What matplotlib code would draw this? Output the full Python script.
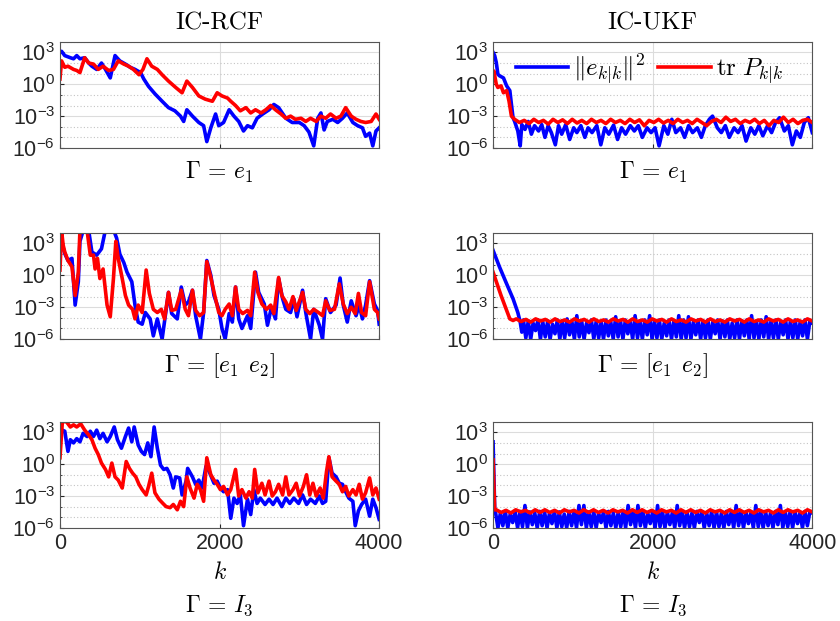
import numpy as np
import matplotlib
matplotlib.use('Agg')
import matplotlib.pyplot as plt
from matplotlib.ticker import NullFormatter

plt.rcParams['font.family'] = ['Liberation Sans', 'DejaVu Sans']
plt.rcParams['mathtext.fontset'] = 'cm'

# values are log10 of the plotted quantity
# IC-RCF, Gamma = e1
rcf_e1_err_k = [0, 20, 60, 130, 170, 210, 250, 310, 360, 400, 460, 520, 570, 630, 690, 750, 820, 880, 940, 1010,
                1050, 1110, 1190, 1280, 1360, 1440, 1510, 1550, 1590, 1660, 1740, 1800, 1840, 1890, 1950, 1990, 2050, 2120, 2180, 2240,
                2300, 2350, 2410, 2470, 2540, 2620, 2680, 2740, 2830, 2910, 3000, 3060, 3120, 3180, 3230, 3270, 3310, 3350, 3420, 3480,
                3540, 3600, 3670, 3730, 3790, 3830, 3880, 3920, 3960, 4000]
rcf_e1_err = [3.0, 3.1, 2.7, 2.5, 2.4, 2.7, 2.4, 2.5, 2.0, 1.7, 1.4, 2.0, 1.4, 0.6, 2.7, 2.2, 1.9, 1.6, 1.4, 1.1,
              0.5, -0.2, -0.9, -1.6, -2.2, -2.5, -3.0, -3.5, -2.4, -3.0, -3.6, -3.9, -5.4, -4.1, -2.8, -3.9, -3.6, -2.4, -3.0, -3.5,
              -4.4, -3.9, -4.1, -3.2, -2.8, -2.4, -1.9, -2.2, -3.2, -3.6, -3.6, -3.9, -4.5, -5.8, -3.2, -2.7, -4.3, -3.5, -3.3, -3.6,
              -3.2, -2.7, -3.6, -3.9, -4.1, -4.9, -4.6, -5.8, -4.4, -4.1]
rcf_e1_tr_k = [0, 20, 60, 100, 170, 210, 250, 310, 360, 420, 480, 540, 610, 670, 730, 800, 860, 920, 990, 1040,
               1090, 1150, 1220, 1280, 1360, 1450, 1530, 1590, 1660, 1740, 1820, 1910, 1970, 2030, 2100, 2140, 2200, 2260, 2330, 2390,
               2450, 2520, 2580, 2640, 2700, 2770, 2830, 2890, 2950, 3020, 3080, 3140, 3210, 3270, 3330, 3390, 3460, 3520, 3580, 3650,
               3710, 3770, 3830, 3900, 3960, 4000]
rcf_e1_tr = [0.5, 2.2, 1.6, 1.7, 1.4, 1.3, 1.1, 2.5, 2.0, 1.9, 1.4, 1.7, 1.3, 1.4, 2.2, 1.9, 1.7, 1.4, 0.9, 1.4,
             2.4, 1.7, 1.4, 0.9, 0.3, -0.3, -0.8, 0.3, -0.3, -1.1, -1.4, -1.6, -0.8, -1.1, -1.3, -1.6, -2.0, -2.5, -2.2, -2.7,
             -2.4, -2.7, -2.4, -2.0, -2.4, -2.8, -3.2, -3.0, -3.3, -3.2, -3.5, -3.2, -3.5, -3.0, -3.2, -2.8, -3.2, -3.0, -2.2, -3.0,
             -3.3, -3.5, -3.6, -3.5, -2.8, -3.3]

# IC-RCF, Gamma = [e1 e2]
rcf_e12_err_k = [0, 20, 60, 100, 150, 190, 230, 250, 290, 360, 400, 460, 520, 570, 670, 710, 750, 800, 840, 900,
                 940, 980, 1030, 1070, 1130, 1170, 1220, 1280, 1320, 1360, 1400, 1470, 1520, 1570, 1610, 1660, 1700, 1760, 1800, 1840,
                 1890, 1930, 1990, 2030, 2070, 2120, 2160, 2200, 2240, 2280, 2350, 2390, 2450, 2490, 2560, 2600, 2650, 2700, 2740, 2790,
                 2830, 2890, 2930, 2970, 3040, 3080, 3140, 3180, 3250, 3290, 3330, 3390, 3460, 3510, 3550, 3600, 3650, 3710, 3750, 3790,
                 3830, 3880, 3940, 3980, 4000]
rcf_e12_err = [2.7, 3.2, 2.05, 1.4, 1.6, -2.8, -0.6, 3.2, 4.2, 4.2, 2.2, 1.9, 2.5, 4.3, 4.3, 3.5, 2.0, 1.2, 0.3, -0.6,
               -2.8, -4.4, -4.6, -3.5, -4.1, -5.7, -4.1, -6.0, -3.8, -1.6, -3.6, -4.1, -1.1, -2.8, -2.5, -1.4, -3.8, -6.0, -3.5, 1.4,
               0.0, -1.9, -3.2, -5.0, -6.0, -3.6, -4.4, -1.1, -4.1, -5.0, -3.8, -5.0, 0.3, -1.6, -2.7, -4.7, -3.0, -4.1, -0.3, -2.2,
               -3.2, -3.5, -2.2, -3.9, -1.4, -3.5, -6.0, -3.2, -4.7, -6.0, -2.2, -3.5, -2.8, -0.25, -2.8, -4.4, -2.4, -3.8, -2.8, -4.1,
               -2.8, -0.5, -2.7, -3.3, -4.6]
rcf_e12_tr_k = [0, 20, 40, 60, 100, 150, 190, 230, 250, 340, 380, 420, 440, 470, 500, 540, 590, 630, 670, 700,
                730, 780, 820, 860, 910, 940, 980, 1030, 1080, 1120, 1170, 1220, 1270, 1310, 1360, 1400, 1450, 1520, 1570, 1610,
                1660, 1700, 1750, 1800, 1840, 1890, 1940, 1990, 2030, 2070, 2120, 2160, 2200, 2240, 2290, 2350, 2390, 2440, 2480, 2530,
                2590, 2640, 2680, 2740, 2780, 2830, 2870, 2920, 2960, 3040, 3080, 3130, 3180, 3240, 3290, 3330, 3380, 3440, 3500, 3550,
                3600, 3650, 3700, 3740, 3780, 3830, 3880, 3940, 3980, 4000]
rcf_e12_tr = [0.5, 4.2, 2.85, 2.2, 1.4, 0.8, -1.9, 0.3, 4.2, 4.2, 1.9, 1.9, 0.6, 1.6, -0.3, 0.6, -2.8, -3.9, -0.3, 3.2,
              1.6, -0.3, -1.9, -2.8, -3.2, -4.1, -2.8, -3.5, 0.5, -1.7, -3.2, -3.5, -3.2, -4.1, -1.6, -3.3, -3.2, -1.4, -3.2, -3.8,
              -1.4, -3.3, -3.8, -3.5, 1.3, -0.2, -1.9, -3.5, -3.8, -3.2, -2.7, -3.8, -1.1, -3.2, -3.6, -3.3, -3.8, 0.3, -1.6, -2.7,
              -3.2, -2.8, -3.6, -0.2, -1.9, -2.5, -3.2, -2.0, -3.3, -1.6, -3.2, -3.6, -3.2, -3.5, -3.8, -2.4, -3.3, -3.2, -0.8, -2.7,
              -3.6, -3.0, -3.6, -1.7, -3.5, -3.8, -0.6, -3.2, -3.5, -4.1]

# IC-RCF, Gamma = I3
rcf_i3_err_k = [0, 30, 60, 100, 130, 170, 210, 250, 290, 340, 380, 420, 460, 500, 540, 590, 630, 680, 720, 770,
                820, 860, 900, 930, 980, 1020, 1060, 1100, 1140, 1180, 1220, 1260, 1300, 1340, 1380, 1420, 1450, 1500, 1530, 1580,
                1600, 1660, 1700, 1740, 1780, 1830, 1870, 1930, 1970, 2010, 2050, 2100, 2140, 2180, 2220, 2260, 2300, 2350, 2390, 2430,
                2470, 2510, 2570, 2620, 2670, 2720, 2780, 2830, 2880, 2930, 2990, 3040, 3090, 3140, 3200, 3250, 3290, 3330, 3370, 3410,
                3460, 3500, 3540, 3580, 3620, 3670, 3700, 3740, 3780, 3830, 3880, 3920, 3960, 4000]
rcf_i3_err = [2.6, 3.2, 3.1, 1.2, 2.3, 2.0, 2.4, 2.1, 2.9, 2.6, 3.1, 2.6, 3.2, 2.4, 2.9, 2.1, 2.6, 3.5, 2.3, 1.5,
              2.6, 3.4, 2.1, 3.5, 1.8, 1.2, 0.9, 2.0, 0.7, 3.5, 1.5, -0.1, -0.5, -0.4, -1.0, -2.25, -1.2, -1.3, -2.9, -1.6,
              -0.4, -1.2, -1.9, -1.5, -2.25, -0.2, -0.7, -1.8, -1.6, -2.25, -2.6, -2.4, -5.1, -3.2, -3.7, -2.9, -5.8, -3.3, -4.75, -2.4,
              -3.7, -3.2, -3.8, -3.3, -3.8, -3.2, -4.0, -3.2, -3.7, -3.2, -3.7, -2.9, -3.8, -3.3, -3.7, -3.0, -3.7, -3.5, 0.6, -0.85,
              -1.2, -1.8, -1.9, -2.6, -3.2, -3.5, -5.8, -4.4, -3.8, -3.3, -4.9, -3.3, -4.1, -5.2]
rcf_i3_tr_k = [0, 30, 80, 130, 170, 210, 260, 310, 360, 400, 440, 480, 520, 570, 610, 650, 690, 730, 780, 830,
               870, 910, 950, 990, 1030, 1080, 1110, 1150, 1190, 1240, 1290, 1330, 1380, 1420, 1470, 1510, 1550, 1590, 1630, 1680,
               1720, 1760, 1800, 1840, 1890, 1930, 1970, 2010, 2050, 2100, 2140, 2200, 2240, 2280, 2330, 2370, 2410, 2440, 2480, 2530,
               2570, 2620, 2660, 2700, 2740, 2790, 2830, 2870, 2920, 2960, 3000, 3050, 3090, 3130, 3170, 3210, 3260, 3300, 3340, 3370,
               3410, 3460, 3500, 3540, 3580, 3620, 3670, 3710, 3750, 3790, 3830, 3880, 3920, 3960, 4000]
rcf_i3_tr = [0.6, 4.0, 4.0, 3.5, 3.7, 3.5, 3.8, 3.2, 2.75, 2.3, 1.5, 0.9, 0.1, -0.5, -1.2, 0.1, -1.2, -1.5, -2.25, 0.25,
             -0.4, -0.85, -1.2, -1.9, -2.4, -2.9, -2.1, -0.85, -2.7, -3.3, -3.7, -4.0, -4.1, -3.8, -4.3, -3.5, -4.0, -1.2, -2.25, -3.2,
             -1.9, -2.4, -3.5, 0.6, -1.0, -1.5, -1.9, -2.4, -2.1, -2.9, -2.4, -0.5, -3.0, -2.4, -3.2, -2.6, -3.2, -0.5, -2.7, -1.8,
             -2.9, -1.6, -3.0, -2.6, -1.9, -2.9, -1.2, -2.9, -2.4, -1.8, -3.0, -2.1, -1.0, -2.9, -1.8, -3.0, -2.25, -3.2, -0.7, 0.7,
             -1.2, -1.6, -1.9, -2.6, -2.1, -3.0, -2.4, -2.9, -1.9, -3.3, -2.7, -1.3, -2.9, -2.25, -3.3]

# IC-UKF, Gamma = e1
ukf_e1_err_k = [0, 20, 40, 60, 80, 130, 170, 210, 230, 250, 270, 310, 340, 360, 400, 440, 480, 520, 570, 610,
                650, 690, 730, 780, 820, 860, 910, 960, 1010, 1050, 1100, 1150, 1190, 1240, 1300, 1350, 1400, 1450, 1510, 1560,
                1610, 1660, 1720, 1770, 1820, 1870, 1930, 1980, 2030, 2080, 2140, 2190, 2240, 2290, 2350, 2400, 2450, 2500, 2560, 2610,
                2660, 2710, 2750, 2810, 2860, 2910, 2960, 3020, 3070, 3120, 3170, 3230, 3280, 3330, 3380, 3440, 3490, 3540, 3590, 3650,
                3700, 3750, 3800, 3850, 3900, 3950, 4000]
ukf_e1_err = [3.0, 2.7, 2.05, 0.95, 0.8, 0.6, -0.15, -0.6, -1.9, -3.15, -3.5, -4.4, -5.8, -3.8, -4.25, -3.5, -4.7, -3.9, -4.4, -3.8,
              -5.0, -3.9, -4.55, -5.7, -3.9, -4.7, -3.8, -5.2, -4.1, -4.55, -3.9, -5.0, -4.1, -4.55, -3.9, -5.7, -4.1, -4.7, -3.85, -5.2,
              -4.1, -4.7, -3.9, -4.4, -3.9, -5.0, -4.1, -4.55, -4.1, -5.8, -3.9, -4.7, -3.3, -4.55, -4.1, -5.0, -3.9, -4.55, -4.1, -5.0,
              -3.9, -3.3, -3.0, -4.1, -4.55, -3.9, -5.0, -4.1, -4.55, -3.9, -5.35, -4.1, -4.7, -3.9, -4.85, -3.9, -4.55, -3.6, -3.15, -4.4,
              -3.9, -5.7, -4.4, -5.0, -3.6, -3.15, -4.55]
ukf_e1_tr_head_k = [0, 10, 40, 60, 100, 130, 170, 200, 230]
ukf_e1_tr_head = [0.95, 1.25, 0.0, -0.3, -0.15, -0.8, -0.6, -1.6, -3.0]
ukf_e1_tr_floor = [-3.3, -3.6, -3.4, -3.7, -3.3, -3.6, -3.4, -3.75, -3.3, -3.6,
                   -3.35, -3.7, -3.3, -3.65, -3.4, -3.7, -3.3, -3.6, -3.4, -3.7,
                   -3.3, -3.6, -3.4, -3.7, -3.3, -3.6, -3.35, -3.9, -3.4, -3.6,
                   -3.3, -3.65, -3.4, -3.7, -3.3, -3.6, -3.4, -3.7, -3.3, -3.6,
                   -3.9, -3.5, -3.3, -3.6, -3.1, -3.5, -3.3, -3.7, -3.4, -3.6,
                   -3.3, -3.7, -3.4, -3.9, -3.4, -3.6, -3.1, -3.6, -3.3, -3.7,
                   -3.4, -3.3, -3.6]

# IC-UKF, Gamma = [e1 e2]
ukf_e12_err_head_k = [0, 80, 170, 250, 310, 340, 360]
ukf_e12_err_head = [2.35, 0.8, -0.8, -2.2, -3.5, -4.4, -5.35]
ukf_e12_err_floor = [-4.2, -5.9, -4.3, -6.0, -4.5, -5.2, -4.2, -6.0, -4.4, -5.8,
                     -4.3, -6.0, -4.6, -5.5, -4.2, -6.0, -4.3, -5.9, -4.1, -5.6,
                     -4.4, -6.0, -3.8, -5.8, -4.3, -6.0, -4.5, -5.4, -4.2, -6.0,
                     -4.3, -5.9, -4.4, -6.0, -4.2, -5.7, -4.4, -6.0, -3.9, -5.8,
                     -4.3, -6.0, -4.2, -5.5, -4.4, -6.0, -3.8, -5.9, -4.3, -6.0,
                     -4.2, -5.6, -3.8, -6.0, -4.3, -5.9, -4.2, -6.0, -4.5, -5.7,
                     -4.2, -6.0, -4.3, -5.8, -3.8, -6.0, -4.2, -5.9, -3.9, -6.0,
                     -4.4, -5.6, -4.2, -6.0, -4.3, -5.9, -4.2, -6.0, -4.4, -5.5,
                     -4.2, -6.0, -4.3, -5.8, -4.2, -6.0, -4.5, -5.9, -4.2, -6.0,
                     -4.3, -5.7, -4.2, -6.0, -3.8, -5.9, -4.3, -6.0, -4.2, -5.8,
                     -3.9, -6.0, -4.3, -5.9, -4.2, -6.0, -4.4, -5.6, -4.2, -6.0,
                     -4.3, -5.9, -4.2, -6.0, -4.4, -5.7, -4.2, -6.0, -4.3, -4.5]
ukf_e12_tr_head_k = [0, 100, 210, 250]
ukf_e12_tr_head = [0.3, -1.9, -4.1, -4.25]
ukf_e12_tr_floor = [-4.1, -4.35, -4.15, -4.4, -4.1, -4.3, -4.15, -4.4, -4.1, -4.35,
                    -4.2, -4.4, -4.1, -4.3, -4.15, -4.4, -4.1, -4.35, -4.2, -4.4,
                    -4.1, -4.3, -4.15, -4.4, -4.1, -4.35, -4.2, -4.4, -4.1, -4.3,
                    -4.15, -4.4, -4.1, -4.35, -4.2, -4.4, -4.1, -4.3, -4.15, -4.4,
                    -4.1, -4.35, -4.2, -4.4, -4.1, -4.3, -4.15, -4.4, -4.1, -4.35,
                    -4.2, -4.4, -4.1, -4.3, -4.15, -4.4, -4.1, -4.35, -4.2, -4.4,
                    -4.1, -4.3]

# IC-UKF, Gamma = I3
ukf_i3_err_head_k = [0, 20]
ukf_i3_err_head = [2.1, -4.1]
ukf_i3_err_floor = [-4.5, -6.0, -4.6, -5.8, -4.45, -6.0, -4.7, -5.5, -4.5, -6.0,
                    -4.45, -5.9, -3.9, -6.0, -4.5, -5.7, -4.6, -6.0, -4.45, -5.8,
                    -4.5, -6.0, -4.6, -5.6, -4.45, -6.0, -4.5, -5.9, -4.7, -6.0,
                    -4.45, -5.8, -4.5, -6.0, -3.9, -5.7, -3.9, -6.0, -4.5, -5.9,
                    -4.45, -6.0, -4.6, -5.5, -4.5, -6.0, -4.45, -5.8, -4.6, -6.0,
                    -4.5, -5.9, -4.45, -6.0, -3.9, -5.7, -4.5, -6.0, -3.9, -5.8,
                    -4.45, -6.0, -4.6, -5.6, -4.5, -6.0, -3.9, -5.9, -4.45, -6.0,
                    -4.5, -5.7, -4.6, -6.0, -3.9, -5.8, -4.45, -6.0, -4.5, -5.9,
                    -4.6, -6.0, -4.45, -5.5, -4.5, -6.0, -4.6, -5.8, -4.45, -6.0,
                    -4.5, -5.9, -4.6, -6.0, -4.45, -5.7, -4.5, -6.0, -3.9, -5.8,
                    -4.45, -6.0, -4.5, -5.6, -4.6, -6.0, -3.9, -5.9, -4.45, -6.0,
                    -4.5, -5.8, -4.6, -6.0, -4.45, -5.7, -3.9, -6.0, -4.5, -5.9,
                    -4.45, -6.0, -4.5, -5.6, -4.6, -6.0, -4.45, -5.8, -4.5, -4.6]
ukf_i3_tr_head_k = [0, 20]
ukf_i3_tr_head = [0.4, -4.3]
ukf_i3_tr_floor = [-4.3, -4.55, -4.35, -4.6, -4.3, -4.5, -4.35, -4.6, -4.3, -4.55,
                   -4.3, -4.55, -4.35, -4.6, -4.3, -4.5, -4.35, -4.6, -4.3, -4.55,
                   -4.3, -4.55, -4.35, -4.6, -4.3, -4.5, -4.35, -4.6, -4.3, -4.55,
                   -4.3, -4.55, -4.35, -4.6, -4.3, -4.5, -4.35, -4.6, -4.3, -4.55,
                   -4.3, -4.55, -4.35, -4.6, -4.3, -4.5, -4.35, -4.6, -4.3, -4.55,
                   -4.3, -4.55, -4.35, -4.6, -4.3, -4.5, -4.35, -4.6, -4.3, -4.55,
                   -4.3, -4.5, -4.35, -4.6, -4.3, -4.5]

col_titles = ['IC-RCF', 'IC-UKF']
row_labels = [r'$\Gamma \,=\, e_1$', r'$\Gamma \,=\, [e_1\;\, e_2]$', r'$\Gamma \,=\, I_3$']


def with_floor(head_k, head, floor, start):
    k = np.concatenate([head_k, np.linspace(start, 4000, len(floor))])
    return k, np.concatenate([head, floor])


ukf_e1_tr_all = with_floor(ukf_e1_tr_head_k, ukf_e1_tr_head, ukf_e1_tr_floor, 270)
ukf_e12_err_all = with_floor(ukf_e12_err_head_k, ukf_e12_err_head, ukf_e12_err_floor, 380)
ukf_e12_tr_all = with_floor(ukf_e12_tr_head_k, ukf_e12_tr_head, ukf_e12_tr_floor, 290)
ukf_i3_err_all = with_floor(ukf_i3_err_head_k, ukf_i3_err_head, ukf_i3_err_floor, 30)
ukf_i3_tr_all = with_floor(ukf_i3_tr_head_k, ukf_i3_tr_head, ukf_i3_tr_floor, 40)

panels = [
    [((rcf_e1_err_k, rcf_e1_err), (rcf_e1_tr_k, rcf_e1_tr)),
     ((ukf_e1_err_k, ukf_e1_err), ukf_e1_tr_all)],
    [((rcf_e12_err_k, rcf_e12_err), (rcf_e12_tr_k, rcf_e12_tr)),
     (ukf_e12_err_all, ukf_e12_tr_all)],
    [((rcf_i3_err_k, rcf_i3_err), (rcf_i3_tr_k, rcf_i3_tr)),
     (ukf_i3_err_all, ukf_i3_tr_all)],
]

fig = plt.figure(figsize=(8.4, 6.21), dpi=100)
col_x = [0.0714, 0.587]
row_y = [0.7617, 0.454, 0.150]
w, h = 0.380, 0.171
dark = '#262626'

for r in range(3):
    for c in range(2):
        ax = fig.add_axes([col_x[c], row_y[r], w, h])
        (ek, ev), (tk, tv) = panels[r][c]
        ax.plot(ek, 10.0 ** np.asarray(ev), color='#0000ff', lw=2.6, label=r'$\|e_{k|k}\|^2$')
        ax.plot(tk, 10.0 ** np.asarray(tv), color='#ff0000', lw=2.6, label=r'$\mathrm{tr}\ P_{k|k}$')
        ax.set_yscale('log')
        ax.set_xlim(0, 4000)
        ax.set_ylim(1e-6, 1e4)
        ax.set_yticks([1e-6, 1e-3, 1e0, 1e3])
        ax.set_yticks([10.0 ** p for p in (-5, -4, -2, -1, 1, 2, 4)], minor=True)
        ax.yaxis.set_minor_formatter(NullFormatter())
        ax.set_xticks([0, 2000, 4000])
        ax.grid(True, which='major', color='#dcdcdc', lw=0.8, ls='-')
        ax.grid(True, which='minor', axis='y', color='#c4c4c4', lw=0.8, ls=(0, (1, 2)))
        ax.set_axisbelow(True)
        for s in ax.spines.values():
            s.set_color('#555555')
            s.set_linewidth(0.8)
        ax.tick_params(which='both', direction='in', color=dark, labelcolor=dark, labelsize=15.5)
        ax.tick_params(which='major', length=3)
        ax.tick_params(which='minor', length=1.5)
        if r < 2:
            ax.tick_params(labelbottom=False)
            ax.set_xlabel(row_labels[r], fontsize=17, labelpad=9)
        else:
            ax.set_xlabel(r'$k$', fontsize=17, labelpad=6)
            fig.text(col_x[c] + w / 2, 0.005, row_labels[r], fontsize=17, ha='center', va='bottom')
        if r == 0:
            ax.set_title(col_titles[c], fontfamily='cmr10', fontsize=18, pad=9)
        if r == 0 and c == 1:
            ax.legend(loc='center', bbox_to_anchor=(0.49, 0.74), ncol=2, frameon=False,
                      fontsize=18, handlelength=2.1, handletextpad=0.2, columnspacing=0.5,
                      borderaxespad=0)

fig.savefig('out.png', dpi=100)
